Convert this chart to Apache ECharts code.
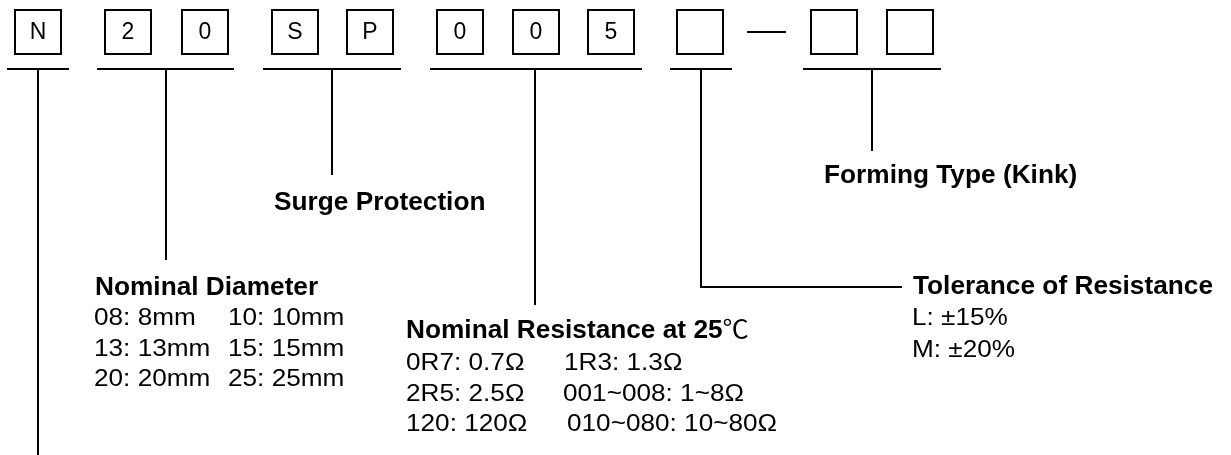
<!DOCTYPE html>
<html>
<head>
<meta charset="utf-8">
<script src="https://cdn.jsdelivr.net/npm/echarts@6/dist/echarts.min.js"></script>
<style>
html,body{margin:0;padding:0;background:#fff;}
#chart{width:1231px;height:455px;}
</style>
</head>
<body>
<div id="chart"></div>
<script>
// ---- data ----
const codeChars = ['N', '2', '0', 'S', 'P', '0', '0', '5', '', '', ''];
const fieldTitles = ['Surge Protection', 'Forming Type (Kink)', 'Nominal Diameter', 'Nominal Resistance at 25\u2103', 'Tolerance of Resistance'];
const diameterItems = [['08: 8mm', '10: 10mm'], ['13: 13mm', '15: 15mm'], ['20: 20mm', '25: 25mm']];
const resistanceItems = [['0R7: 0.7\u03A9', '1R3: 1.3\u03A9'], ['2R5: 2.5\u03A9', '001~008: 1~8\u03A9'], ['120: 120\u03A9', '010~080: 10~80\u03A9']];
const toleranceItems = ['L: \u00B115%', 'M: \u00B120%'];

// ---- layout (axis units = pixels) ----
const L = {
  boxLeft: [15, 105, 182, 272, 347, 437, 513, 588, 677, 811, 887],
  boxTop: 10, boxW: 46, boxH: 44,
  barY: 69,
  brackets: [
    { x1: 7, x2: 69, vx: 38, vy: 456 },
    { x1: 97, x2: 234, vx: 166, vy: 260 },
    { x1: 263, x2: 401, vx: 332, vy: 175 },
    { x1: 430, x2: 642, vx: 535, vy: 305 },
    { x1: 670, x2: 732, vx: 701, vy: 287, hx: 902 },
    { x1: 803, x2: 941, vx: 872, vy: 151 }
  ],
  dash: { x1: 747, x2: 786, y: 32 },
  titlePos: [[274, 212], [824, 185], [95, 297], [406, 340], [913, 296]],
  diamCols: [94, 228], diamRows: [327, 358, 388],
  resCols: [[406, 564], [406, 563], [406, 567]], resRows: [372, 403, 433],
  tolX: 912, tolRows: [327, 359]
};

const FONT = '"Liberation Sans", Arial, Helvetica, "Noto Sans CJK SC", sans-serif';

// build label records
const labels = [];
fieldTitles.forEach((t, i) => labels.push({ t, x: L.titlePos[i][0], b: L.titlePos[i][1], bold: true }));
diameterItems.forEach((row, r) => row.forEach((t, c) => labels.push({ t, x: L.diamCols[c], b: L.diamRows[r], bold: false })));
resistanceItems.forEach((row, r) => row.forEach((t, c) => labels.push({ t, x: L.resCols[r][c], b: L.resRows[r], bold: false })));
toleranceItems.forEach((t, r) => labels.push({ t, x: L.tolX, b: L.tolRows[r], bold: false }));

function boxItem(params, api) {
  const i = params.dataIndex;
  const p0 = api.coord([L.boxLeft[i], L.boxTop]);
  const p1 = api.coord([L.boxLeft[i] + L.boxW, L.boxTop + L.boxH]);
  return {
    type: 'group',
    children: [
      { type: 'rect', shape: { x: p0[0], y: p0[1], width: p1[0] - p0[0], height: p1[1] - p0[1] },
        style: { fill: '#fff', stroke: '#000', lineWidth: 2 } },
      { type: 'text', x: (p0[0] + p1[0]) / 2, y: (p0[1] + p1[1]) / 2 + 1,
        style: { text: codeChars[i], fontFamily: FONT, fontSize: 23, fill: '#000', align: 'center', verticalAlign: 'middle' } }
    ]
  };
}

function bracketItem(params, api) {
  const b = L.brackets[params.dataIndex];
  const a = api.coord([b.x1, L.barY]);
  const c = api.coord([b.x2, L.barY]);
  const top = api.coord([b.vx, L.barY]);
  const bot = api.coord([b.vx, b.vy]);
  const children = [
    { type: 'line', shape: { x1: a[0], y1: a[1], x2: c[0], y2: c[1] }, style: { stroke: '#000', lineWidth: 2 } }
  ];
  if (b.hx !== undefined) {
    const end = api.coord([b.hx, b.vy]);
    children.push({ type: 'polyline', shape: { points: [top, bot, end] }, style: { stroke: '#000', lineWidth: 2, fill: null } });
  } else {
    children.push({ type: 'line', shape: { x1: top[0], y1: top[1], x2: bot[0], y2: bot[1] }, style: { stroke: '#000', lineWidth: 2 } });
  }
  return { type: 'group', children };
}

function dashItem(params, api) {
  const a = api.coord([L.dash.x1, L.dash.y]);
  const b = api.coord([L.dash.x2, L.dash.y]);
  return { type: 'line', shape: { x1: a[0], y1: a[1], x2: b[0], y2: b[1] }, style: { stroke: '#000', lineWidth: 2 } };
}

function labelItem(params, api) {
  const d = labels[params.dataIndex];
  const fs = d.bold ? 25 : 24;
  const p = api.coord([d.x, d.b - 0.3465 * fs]);
  let style = { text: d.t, fontFamily: FONT, fontSize: fs, fontWeight: d.bold ? 'bold' : 'normal',
    fill: '#000', align: 'left', verticalAlign: 'middle' };
  // the degree-Celsius sign is drawn in regular weight
  if (d.bold && d.t.indexOf('\u2103') >= 0) {
    const parts = d.t.split('\u2103');
    style.text = '{b|' + parts[0] + '}{n|\u2103}';
    style.rich = {
      b: { fontFamily: FONT, fontSize: fs, fontWeight: 'bold', fill: '#000' },
      n: { fontFamily: FONT, fontSize: fs, fontWeight: 'normal', fill: '#000' }
    };
  }
  return { type: 'text', x: p[0], y: p[1], scaleX: d.bold ? 1.05 : 1.09, style };
}

const chart = echarts.init(document.getElementById('chart'), null, { renderer: 'canvas' });
chart.setOption({
  animation: false,
  backgroundColor: '#fff',
  grid: { left: 0, right: 0, top: 0, bottom: 0 },
  xAxis: { type: 'value', min: 0, max: 1231, show: false },
  yAxis: { type: 'value', min: 0, max: 455, inverse: true, show: false },
  series: [
    { type: 'custom', silent: true, renderItem: bracketItem, data: L.brackets.map((b, i) => [i]) },
    { type: 'custom', silent: true, renderItem: dashItem, data: [[0]] },
    { type: 'custom', silent: true, renderItem: boxItem, data: codeChars.map((c, i) => [i]) },
    { type: 'custom', silent: true, renderItem: labelItem, data: labels.map((l, i) => [i]) }
  ]
});
</script>
</body>
</html>
